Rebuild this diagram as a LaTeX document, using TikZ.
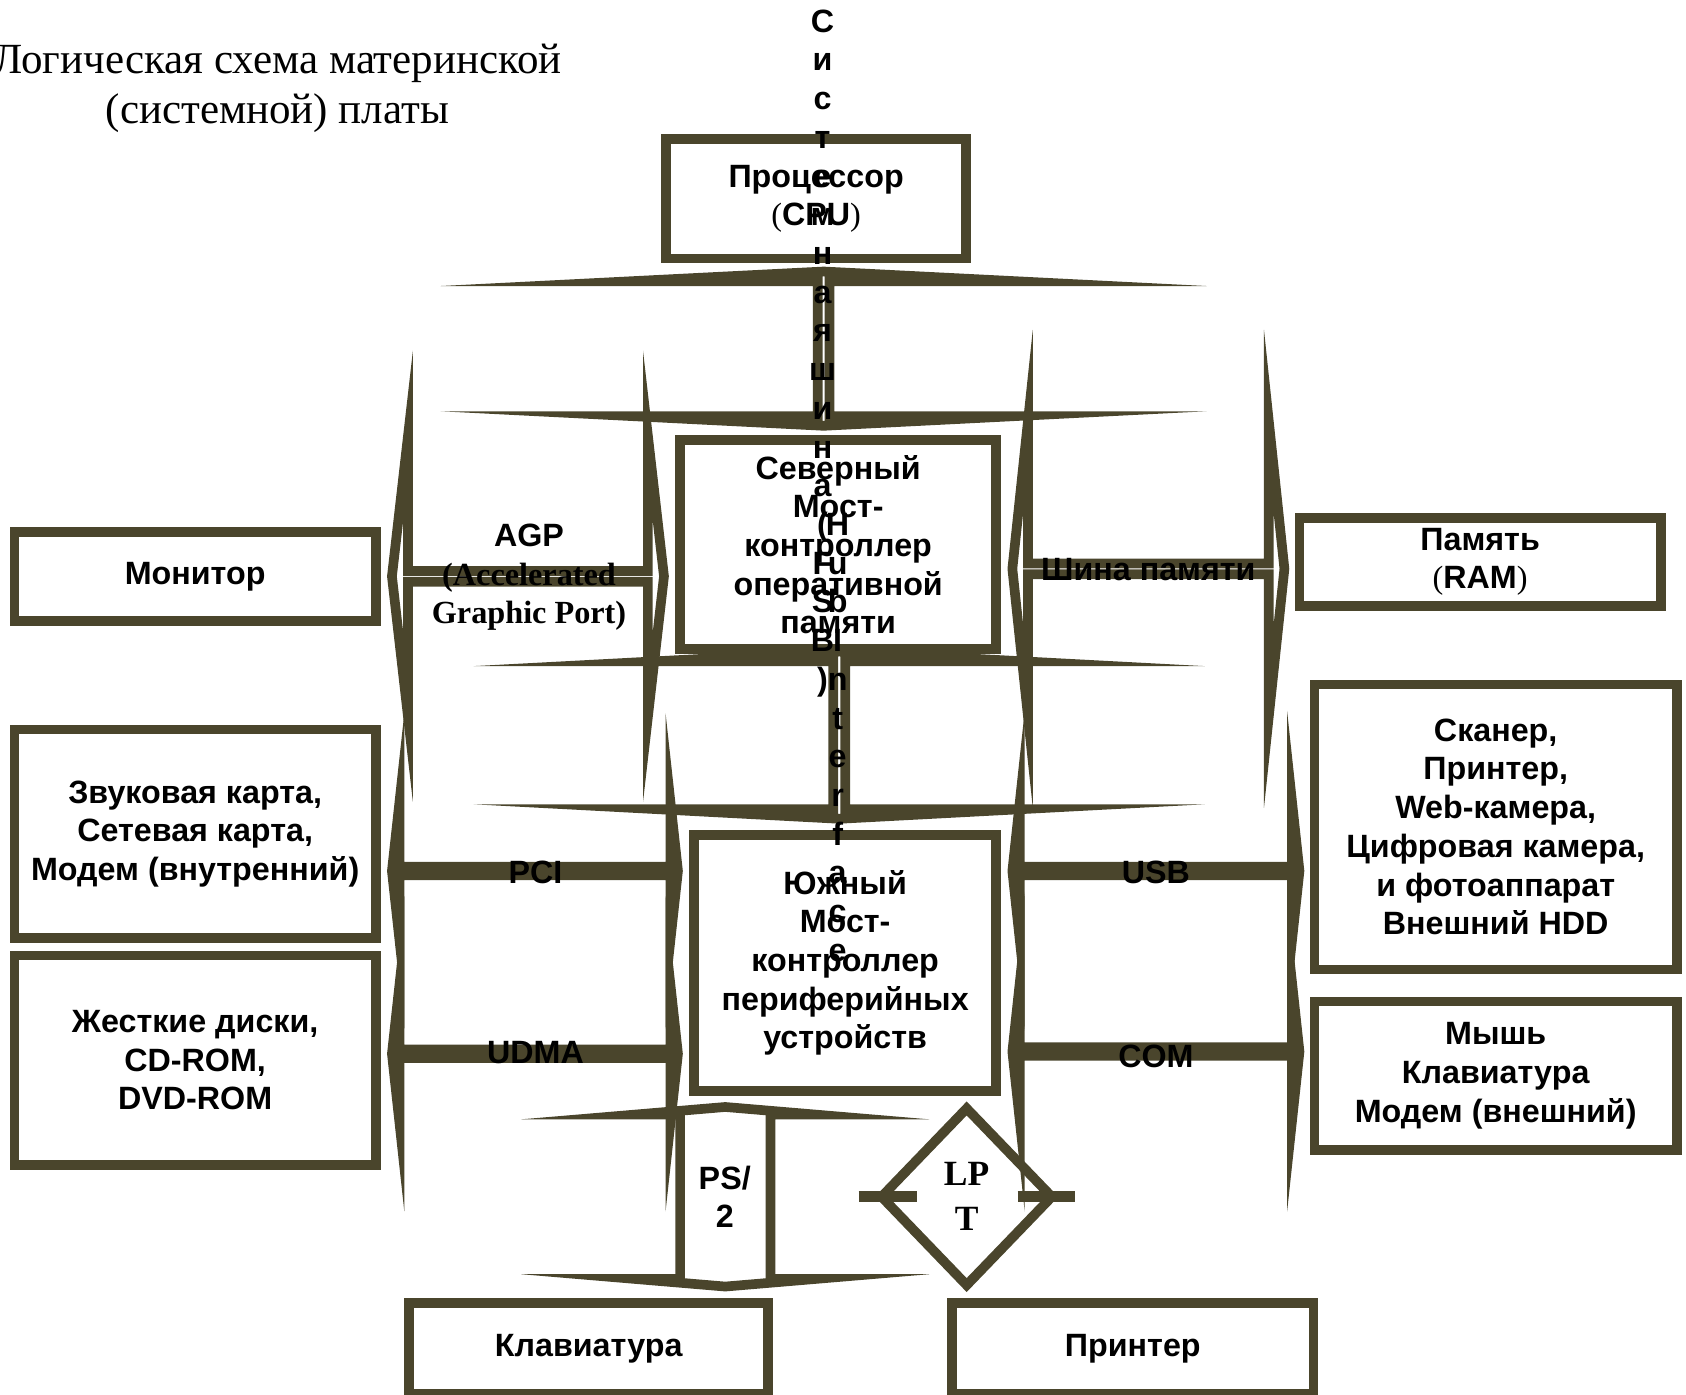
\documentclass[tikz,border=0pt]{standalone}
\usepackage{fontspec}
\setmainfont{Liberation Serif}
\setsansfont{Liberation Sans}
\usetikzlibrary{shapes.geometric}
\definecolor{bord}{RGB}{74,69,44}
% двойные стрелки: x1, x2, y, длина головки, полувысота головки, полутолщина
\newcommand{\hstrelka}[6]{\draw[strelka] (#1,#3)--(#1+#4,#3-#5)--(#1+#4,#3-#6)--(#2-#4,#3-#6)--(#2-#4,#3-#5)--(#2,#3)--(#2-#4,#3+#5)--(#2-#4,#3+#6)--(#1+#4,#3+#6)--(#1+#4,#3+#5)--cycle;}
% x, y1, y2, длина головки, полуширина головки, полутолщина
\newcommand{\vstrelka}[6]{\draw[strelka] (#1,#2)--(#1+#5,#2+#4)--(#1+#6,#2+#4)--(#1+#6,#3-#4)--(#1+#5,#3-#4)--(#1,#3)--(#1-#5,#3-#4)--(#1-#6,#3-#4)--(#1-#6,#2+#4)--(#1-#5,#2+#4)--cycle;}
\begin{document}
\begin{tikzpicture}[x=1pt, y=-1pt, line join=miter, miter limit=60,
    strelka/.style={draw=bord, line width=9pt},
    blok/.style={draw=bord, line width=9pt, fill=white, align=center, inner sep=0pt, font=\sffamily\bfseries\fontsize{30}{36}\selectfont},
    metka/.style={align=center, inner sep=0pt, font=\sffamily\bfseries\fontsize{30}{36}\selectfont}]
\useasboundingbox (0,0) rectangle (1568,1297);
\node[align=center, font=\rmfamily\fontsize{40}{47}\selectfont] (title) at (258,82) {Логическая схема материнской\\(системной) платы};
% шины
\vstrelka{766}{252.5}{396}{9}{178}{5.5}
\vstrelka{780.5}{606}{761.5}{9}{170}{5.5}
\vstrelka{674.5}{1029.5}{1196.5}{7}{83}{42}
\hstrelka{364.5}{617.5}{536}{15}{131}{5}
\hstrelka{364.5}{630.5}{810}{7}{64}{4}
\hstrelka{364.5}{630.5}{980}{7}{64}{4}
\hstrelka{941.5}{1194.5}{529}{14.5}{137}{5}
\hstrelka{941.5}{1208.5}{810}{7}{65}{4}
\hstrelka{941.5}{1208.5}{978}{7}{65}{4}
% блоки
\node[blok, minimum width=279pt, minimum height=111pt] (cpu) at (759,185) {Процессор\\\textnormal{(}CPU\textnormal{)}};
\node[blok, minimum width=294pt, minimum height=194pt] (nb) at (779.5,506.5) {Северный\\Мост-\\контроллер\\оперативной\\памяти};
\node[blok, minimum width=281pt, minimum height=238pt] (sb) at (786,895.5) {Южный\\Мост-\\контроллер\\периферийных\\устройств};
\node[blok, minimum width=336pt, minimum height=83pt] (mon) at (181.5,536) {Монитор};
\node[blok, minimum width=336pt, minimum height=82pt] (ram) at (1376.5,522.5) {Память\\\textnormal{(}RAM\textnormal{)}};
\node[blok, minimum width=336pt, minimum height=194pt] (snd) at (181.5,775.5) {Звуковая карта,\\Сетевая карта,\\Модем (внутренний)};
\node[blok, minimum width=336pt, minimum height=195pt] (hdd) at (181.5,986) {Жесткие диски,\\CD-ROM,\\DVD-ROM};
\node[blok, minimum width=337pt, minimum height=265pt] (scan) at (1391,769) {Сканер,\\Принтер,\\Web-камера,\\Цифровая камера,\\и фотоаппарат\\Внешний HDD};
\node[blok, minimum width=337pt, minimum height=138pt] (mouse) at (1391,1000.5) {Мышь\\Клавиатура\\Модем (внешний)};
\node[blok, minimum width=334pt, minimum height=85pt] (kbd) at (547.5,1254) {Клавиатура};
\node[blok, minimum width=336pt, minimum height=85pt] (prn) at (1053.5,1254) {Принтер};
% LPT
\node[diamond, draw=bord, line width=9pt, minimum width=162pt, minimum height=168pt, inner sep=0pt, align=center, font=\rmfamily\bfseries\fontsize{33}{42}\selectfont] (lpt) at (899,1113) {LP\\T};
\draw[bord, line width=10pt] ([xshift=-15pt]lpt.west) -- ([xshift=39pt]lpt.west);
\draw[bord, line width=10pt] ([xshift=-38pt]lpt.east) -- ([xshift=15pt]lpt.east);
% подписи шин
\node[metka] (agp) at (492,537) {AGP\\\rmfamily(Accelerated\\\rmfamily Graphic Port)};
\node[metka] (pci) at (498,811) {PCI};
\node[metka] (udma) at (498,979) {UDMA};
\node[metka] (mem) at (1068,530) {Шина памяти};
\node[metka] (usb) at (1075,811) {USB};
\node[metka] (com) at (1075,982) {COM};
\node[metka] (ps) at (674,1113) {PS/\\2};
% вертикальные надписи
\foreach \b [count=\i from 0] in {С,и,с,т,е,м,н,а,я,ш,и,н,а,{(},F,S,B,{)}}
    \node[metka, anchor=base] (fsb\i) at (765,30+36*\i) {\b};
\foreach \b [count=\i from 13] in {H,u,b,I,n,t,e,r,f,a,c,e}
    \node[metka, anchor=base] (hub\i) at (779,30+36*\i) {\b};
\end{tikzpicture}
\end{document}
